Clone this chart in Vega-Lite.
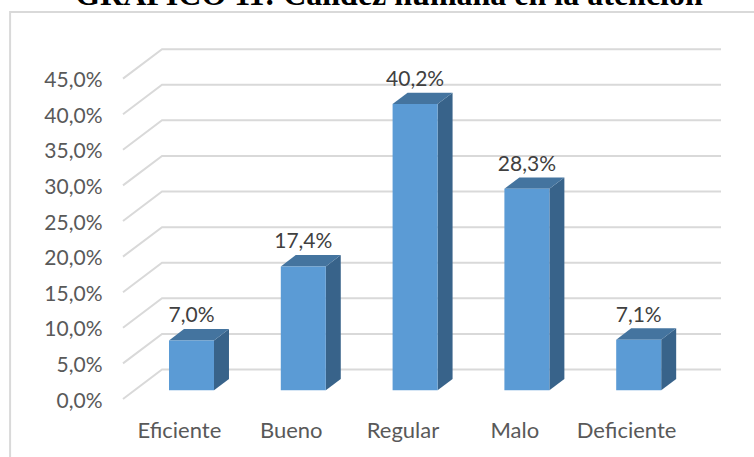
{
  "$schema": "https://vega.github.io/schema/vega-lite/v6.json",
  "width": 754,
  "height": 457,
  "padding": 0,
  "autosize": "none",
  "background": "white",
  "config": {"view": {"stroke": null}},
  "datasets": {
    "niveles": [
      {"orden": 0, "categoria": "Eficiente", "valor": 7.0},
      {"orden": 1, "categoria": "Bueno", "valor": 17.4},
      {"orden": 2, "categoria": "Regular", "valor": 40.2},
      {"orden": 3, "categoria": "Malo", "valor": 28.3},
      {"orden": 4, "categoria": "Deficiente", "valor": 7.1}
    ],
    "marcas": [
      {"v": 0}, {"v": 5}, {"v": 10}, {"v": 15}, {"v": 20},
      {"v": 25}, {"v": 30}, {"v": 35}, {"v": 40}, {"v": 45}
    ],
    "marco": [
      {"mx": -1.01, "my": 54.35, "tramo": 0},
      {"mx": -1.01, "my": -8.146, "tramo": 1},
      {"mx": 5.644, "my": 54.35, "tramo": -1}
    ],
    "encabezado": [
      {"titulo": "GRAFICO 11: Calidez humana en la atención"}
    ]
  },
  "layer": [
    {
      "data": {"name": "marco"},
      "mark": {"type": "line", "color": "#d9d9d9", "strokeWidth": 2},
      "encoding": {
        "x": {
          "field": "mx",
          "type": "quantitative",
          "scale": {"domain": [-1.1002, 5.644], "nice": false, "zero": false},
          "axis": {
            "orient": "bottom",
            "offset": -20,
            "values": [0.5, 1.5, 2.5, 3.5, 4.5],
            "labelExpr": "['Eficiente', 'Bueno', 'Regular', 'Malo', 'Deficiente'][floor(datum.value)]",
            "title": null,
            "domain": false,
            "ticks": false,
            "grid": false,
            "labelFont": "Lato",
            "labelFontSize": 22,
            "labelColor": "#595959",
            "labelPadding": 0,
            "labelBaseline": "alphabetic"
          }
        },
        "y": {
          "field": "my",
          "type": "quantitative",
          "scale": {"domain": [-8.146, 56.04], "nice": false, "zero": false},
          "axis": {
            "orient": "left",
            "offset": -102,
            "values": [0, 5, 10, 15, 20, 25, 30, 35, 40, 45],
            "labelExpr": "replace(format(datum.value, '.1f'), '.', ',') + '%'",
            "title": null,
            "domain": false,
            "ticks": false,
            "grid": false,
            "labelFont": "Lato",
            "labelFontSize": 21,
            "labelColor": "#595959",
            "labelPadding": 0,
            "labelOffset": 2
          }
        },
        "order": {"field": "tramo"}
      }
    },
    {
      "data": {"name": "marcas"},
      "transform": [
        {"calculate": "[0, 1, 2]", "as": "p"},
        {"flatten": ["p"]},
        {"calculate": "datum.p == 0 ? 0 : datum.p == 1 ? 0.349 : 5.349", "as": "gx"},
        {"calculate": "datum.v + (datum.p > 0 ? 4.14 : 0)", "as": "gy"}
      ],
      "mark": {"type": "line", "color": "#d9d9d9", "strokeWidth": 2},
      "encoding": {
        "x": {"field": "gx", "type": "quantitative"},
        "y": {"field": "gy", "type": "quantitative"},
        "detail": {"field": "v"},
        "order": {"field": "p"}
      }
    },
    {
      "data": {"name": "niveles"},
      "transform": [
        {"calculate": "datum.orden + 0.4114 + 0.4025", "as": "bx"},
        {"calculate": "[0, 1]", "as": "d"},
        {"flatten": ["d"]},
        {"calculate": "datum.bx + datum.d * 0.134", "as": "sx"},
        {"calculate": "1.22 + datum.d * 1.6", "as": "sy0"},
        {"calculate": "1.22 + datum.valor + datum.d * 1.6", "as": "sy1"}
      ],
      "mark": {"type": "area", "color": "#38638a", "orient": "vertical"},
      "encoding": {
        "x": {"field": "sx", "type": "quantitative"},
        "y": {"field": "sy1", "type": "quantitative"},
        "y2": {"field": "sy0"},
        "detail": {"field": "categoria"}
      }
    },
    {
      "data": {"name": "niveles"},
      "transform": [
        {"calculate": "[0, 1]", "as": "d"},
        {"flatten": ["d"]},
        {"calculate": "datum.orden + 0.4114 + datum.d * 0.134", "as": "tx0"},
        {"calculate": "datum.orden + 0.8139 + datum.d * 0.134", "as": "tx1"},
        {"calculate": "1.22 + datum.valor + datum.d * 1.6", "as": "ty"}
      ],
      "mark": {"type": "area", "color": "#44749f", "orient": "horizontal"},
      "encoding": {
        "y": {"field": "ty", "type": "quantitative"},
        "x": {"field": "tx0", "type": "quantitative"},
        "x2": {"field": "tx1"},
        "detail": {"field": "categoria"}
      }
    },
    {
      "data": {"name": "niveles"},
      "transform": [
        {"calculate": "datum.orden + 0.4114", "as": "fx0"},
        {"calculate": "datum.orden + 0.8139", "as": "fx1"},
        {"calculate": "1.22 + datum.valor", "as": "fy1"},
        {"calculate": "1.22", "as": "fy0"}
      ],
      "mark": {"type": "rect", "color": "#5b9bd5"},
      "encoding": {
        "x": {"field": "fx0", "type": "quantitative"},
        "x2": {"field": "fx1"},
        "y": {"field": "fy1", "type": "quantitative"},
        "y2": {"field": "fy0"}
      }
    },
    {
      "data": {"name": "niveles"},
      "transform": [
        {"calculate": "datum.orden + 0.6127", "as": "lx"},
        {"calculate": "1.22 + datum.valor", "as": "ly"},
        {"calculate": "replace(format(datum.valor, '.1f'), '.', ',') + '%'", "as": "etiqueta"}
      ],
      "mark": {"type": "text", "font": "Lato", "fontSize": 21, "color": "#404040", "align": "center", "baseline": "alphabetic", "dy": -18},
      "encoding": {
        "x": {"field": "lx", "type": "quantitative"},
        "y": {"field": "ly", "type": "quantitative"},
        "text": {"field": "etiqueta"}
      }
    },
    {
      "data": {"name": "encabezado"},
      "mark": {"type": "text", "font": "Liberation Serif", "fontWeight": "bold", "fontSize": 32, "color": "#000000", "align": "center", "baseline": "alphabetic"},
      "encoding": {
        "x": {"datum": 2.379, "type": "quantitative"},
        "y": {"datum": 55.34, "type": "quantitative"},
        "text": {"field": "titulo"}
      }
    }
  ]
}
